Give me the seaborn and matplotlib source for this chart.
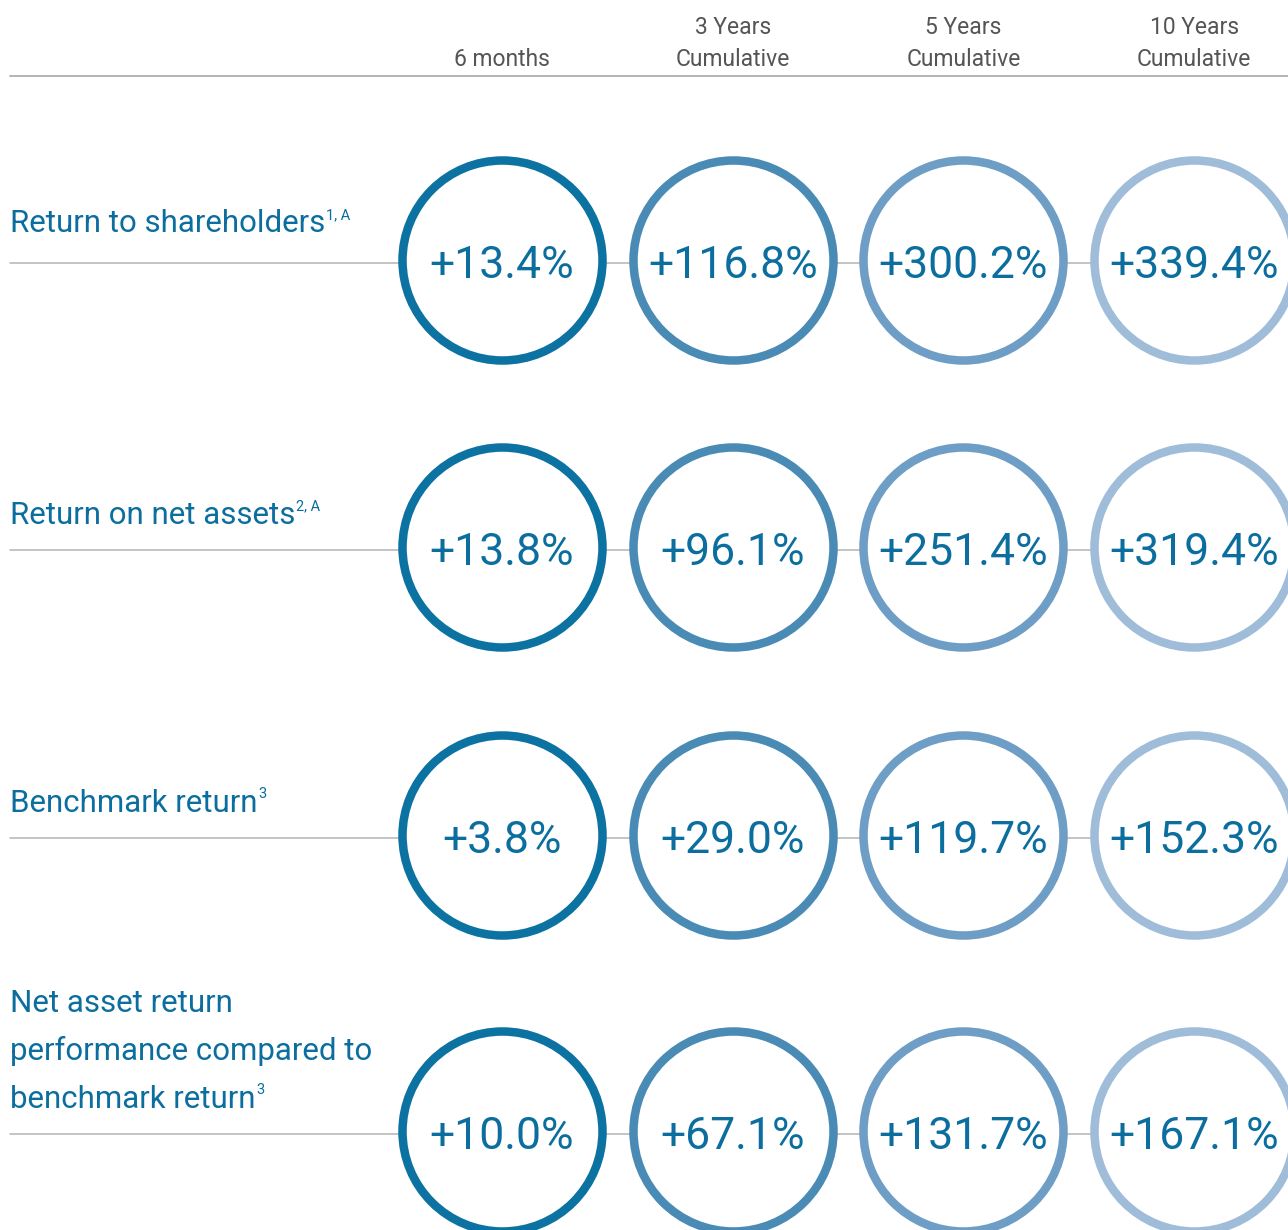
import matplotlib
matplotlib.use("Agg")
import matplotlib.pyplot as plt
import seaborn as sns
import pandas as pd

# ---------------- data ----------------
periods = ["6 months", "3 Years\nCumulative", "5 Years\nCumulative", "10 Years\nCumulative"]
metrics = [
    "Return to shareholders",
    "Return on net assets",
    "Benchmark return",
    "Net asset return\nperformance compared to\nbenchmark return",
]
footnotes = ["1, A", "2, A", "3", "3"]
return_to_shareholders = [13.4, 116.8, 300.2, 339.4]
return_on_net_assets = [13.8, 96.1, 251.4, 319.4]
benchmark_return = [3.8, 29.0, 119.7, 152.3]
nav_vs_benchmark = [10.0, 67.1, 131.7, 167.1]
series = [return_to_shareholders, return_on_net_assets, benchmark_return, nav_vs_benchmark]

# ---------------- style / layout ----------------
ring_colors = ["#0b72a2", "#4a8bb6", "#6e9dc5", "#9fbcd9"]
text_blue = "#0b6e9e"
header_grey = "#555555"
rule_grey = "#b4b4b4"
FONT = "Roboto"

W, H = 1288, 1230
col_x0, col_dx = 502, 230.7
row_y = [260, 547, 835, 1131]          # circle centres (px)
label_y = [224, 515, 803, 1003]        # first label line centre (px)
label_line_gap = 48

sns.set_theme(style="white")
plt.rcParams["font.family"] = [FONT, "DejaVu Sans"]

fig = plt.figure(figsize=(W / 100, H / 100), dpi=100)
ax = fig.add_axes([0, 0, 1, 1])
ax.set_xlim(0, W)
ax.set_ylim(H, 0)
ax.axis("off")

rows = []
for mi, m in enumerate(metrics):
    for pi, p in enumerate(periods):
        rows.append({"metric": m, "period": p, "value": series[mi][pi],
                     "x": col_x0 + pi * col_dx, "y": row_y[mi]})
df = pd.DataFrame(rows)

# horizontal rules
ax.plot([10, W], [76, 76], color=rule_grey, lw=1.4, zorder=1)
for y in row_y:
    ax.plot([10, W], [y + 3, y + 3], color=rule_grey, lw=1.1, zorder=1)

# rings
px = 0.72  # points per pixel at 100 dpi
for pi, p in enumerate(periods):
    sub = df[df["period"] == p]
    sns.scatterplot(data=sub, x="x", y="y", ax=ax, s=(200 * px) ** 2,
                    color="white", edgecolor=ring_colors[pi], linewidth=8.5 * px,
                    zorder=3, legend=False, clip_on=False)

# values inside rings
for _, r in df.iterrows():
    ax.text(r["x"], r["y"] + 6, f"+{r['value']:.1f}%", ha="center", va="center",
            fontsize=32, color=text_blue, zorder=4)

# column headers
for pi, p in enumerate(periods):
    lines = p.split("\n")
    for k, line in enumerate(reversed(lines)):
        ax.text(col_x0 + pi * col_dx, 59 - 32 * k, line, ha="center", va="center",
                fontsize=16.5, color=header_grey)

# row labels with superscripts
fig.canvas.draw()
renderer = fig.canvas.get_renderer()
inv = ax.transData.inverted()
for mi, m in enumerate(metrics):
    lines = m.split("\n")
    last = None
    for k, line in enumerate(lines):
        last = ax.text(10, label_y[mi] + k * label_line_gap, line, ha="left", va="center",
                       fontsize=22.5, color=text_blue)
    bb = last.get_window_extent(renderer=renderer)
    x_end = inv.transform((bb.x1, bb.y1))[0]
    ax.text(x_end + 1, label_y[mi] + (len(lines) - 1) * label_line_gap - 9, footnotes[mi],
            ha="left", va="center", fontsize=10.5, color=text_blue)

fig.savefig("out.png", dpi=100, facecolor="white")
